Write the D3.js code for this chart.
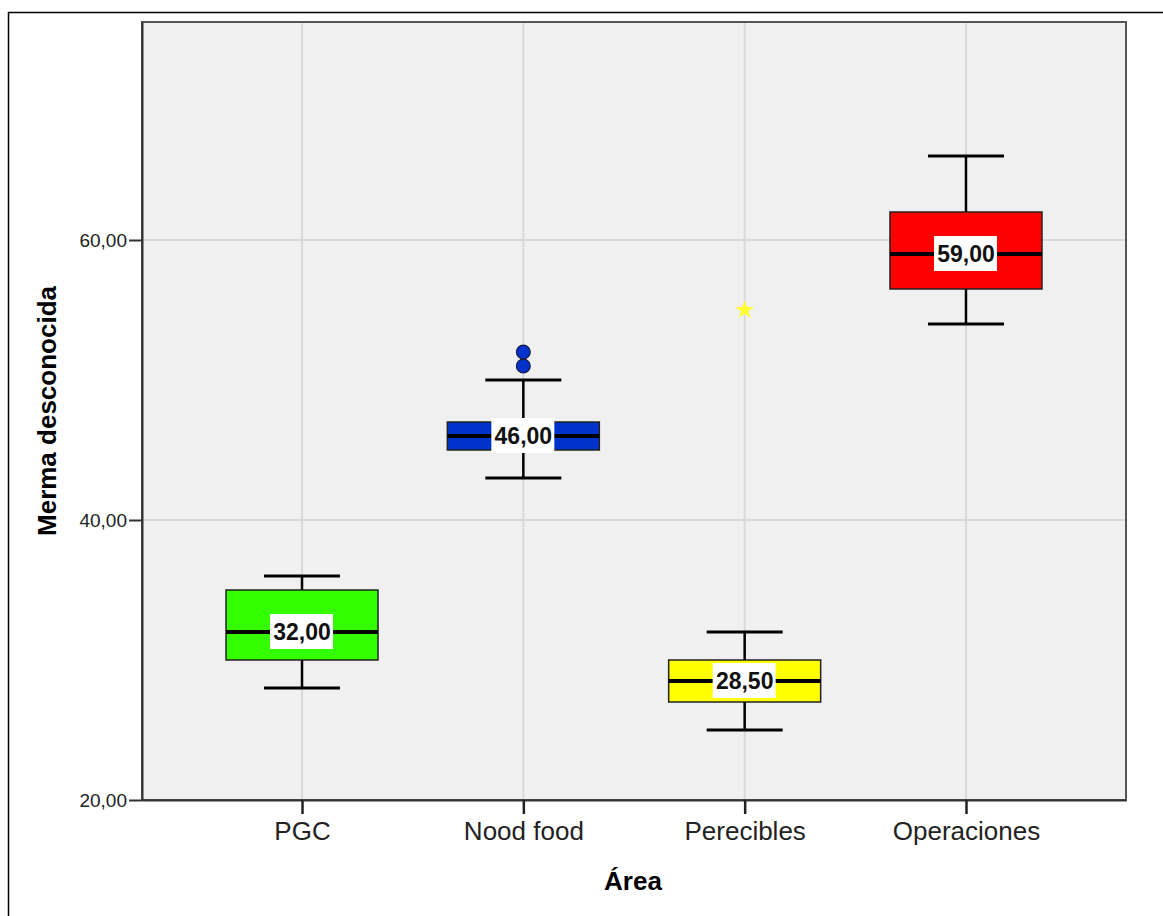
<!DOCTYPE html>
<html>
<head>
<meta charset="utf-8">
<script src="https://cdn.jsdelivr.net/npm/d3@7"></script>
<style>
  body { margin: 0; background: #fff; }
  text { font-family: "Liberation Sans", Arial, sans-serif; }
</style>
</head>
<body>
<div id="chart"></div>
<script>
// data
const areas = ["PGC", "Nood food", "Perecibles", "Operaciones"];
const whiskerLow = [28, 43, 25, 54];
const q1 = [30, 45, 27, 56.5];
const medians = [32, 46, 28.5, 59];
const q3 = [35, 47, 30, 62];
const whiskerHigh = [36, 50, 32, 66];
const boxColors = ["#33ff00", "#0033cc", "#ffff00", "#ff0000"];
// outliers: [area index, value, kind]
const outliers = [[1, 51, "circle"], [1, 52, "circle"], [2, 55, "star"]];
const yTicks = [20, 40, 60];

const W = 1163, H = 916;
const margin = { top: 22, left: 142, right: 37, bottom: 116 };
const width = W - margin.left - margin.right,
      height = H - margin.top - margin.bottom;

const svg = d3.select("#chart").append("svg")
  .attr("width", W).attr("height", H);

// outer frame
svg.append("rect")
  .attr("x", 8.5).attr("y", 12.5)
  .attr("width", W + 20).attr("height", H + 20)
  .attr("fill", "none").attr("stroke", "#000").attr("stroke-width", 1.5);

const g = svg.append("g")
  .attr("transform", "translate(" + margin.left + "," + margin.top + ")");

const x = d3.scalePoint().domain(areas).range([0, width]).padding(0.723);
const y = d3.scaleLinear().domain([20, 20 + height / 14]).range([height, 0]);

// plot background
g.append("rect")
  .attr("width", width).attr("height", height)
  .attr("fill", "#f0f0f0");

// grid
g.selectAll(".hgrid").data(yTicks.slice(1)).enter().append("line")
  .attr("x1", 0).attr("x2", width)
  .attr("y1", d => y(d)).attr("y2", d => y(d))
  .attr("stroke", "#d9d9d9").attr("stroke-width", 2);
g.selectAll(".vgrid").data(areas).enter().append("line")
  .attr("x1", d => x(d)).attr("x2", d => x(d))
  .attr("y1", 0).attr("y2", height)
  .attr("stroke", "#d9d9d9").attr("stroke-width", 2);

// frame of the plot
g.append("rect")
  .attr("width", width).attr("height", height)
  .attr("fill", "none").attr("stroke", "#555").attr("stroke-width", 2);

// axes
const yAxis = g.append("g")
  .call(d3.axisLeft(y).tickValues(yTicks).tickSize(13).tickSizeOuter(0)
    .tickFormat(d => d3.format(".2f")(d).replace(".", ",")));
yAxis.select(".domain").attr("stroke", "#333").attr("stroke-width", 2);
yAxis.selectAll(".tick line").attr("stroke", "#333").attr("stroke-width", 2);
yAxis.selectAll(".tick text").attr("font-size", 19).attr("fill", "#222")
  .attr("x", -15).attr("dy", "0.35em");

const xAxis = g.append("g")
  .attr("transform", "translate(0," + height + ")")
  .call(d3.axisBottom(x).tickSize(14).tickSizeOuter(0));
xAxis.select(".domain").attr("stroke", "#333").attr("stroke-width", 2);
xAxis.selectAll(".tick line").attr("stroke", "#222").attr("stroke-width", 2.5);
xAxis.selectAll(".tick text").attr("font-size", 26).attr("fill", "#222")
  .attr("y", 19).attr("dy", "0.8em");

// axis titles
svg.append("text")
  .attr("transform", "translate(56," + (margin.top + height / 2) + ") rotate(-90)")
  .attr("text-anchor", "middle")
  .attr("font-size", 26).attr("font-weight", "bold")
  .text("Merma desconocida");
svg.append("text")
  .attr("x", 633).attr("y", 890)
  .attr("text-anchor", "middle")
  .attr("font-size", 26).attr("font-weight", "bold")
  .text("Área");

// boxes
const boxW = 152, capW = 76;
const boxes = g.selectAll(".box").data(areas).enter().append("g")
  .attr("transform", d => "translate(" + x(d) + ",0)");

boxes.append("line")
  .attr("y1", (d, i) => y(whiskerHigh[i])).attr("y2", (d, i) => y(q3[i]))
  .attr("stroke", "#000").attr("stroke-width", 2.5);
boxes.append("line")
  .attr("y1", (d, i) => y(q1[i])).attr("y2", (d, i) => y(whiskerLow[i]))
  .attr("stroke", "#000").attr("stroke-width", 2.5);
boxes.append("line")
  .attr("x1", -capW / 2).attr("x2", capW / 2)
  .attr("y1", (d, i) => y(whiskerHigh[i])).attr("y2", (d, i) => y(whiskerHigh[i]))
  .attr("stroke", "#000").attr("stroke-width", 3);
boxes.append("line")
  .attr("x1", -capW / 2).attr("x2", capW / 2)
  .attr("y1", (d, i) => y(whiskerLow[i])).attr("y2", (d, i) => y(whiskerLow[i]))
  .attr("stroke", "#000").attr("stroke-width", 3);
boxes.append("rect")
  .attr("x", -boxW / 2).attr("width", boxW)
  .attr("y", (d, i) => y(q3[i]))
  .attr("height", (d, i) => y(q1[i]) - y(q3[i]))
  .attr("fill", (d, i) => boxColors[i])
  .attr("stroke", "#222").attr("stroke-width", 1.5);
boxes.append("line")
  .attr("x1", -boxW / 2).attr("x2", boxW / 2)
  .attr("y1", (d, i) => y(medians[i])).attr("y2", (d, i) => y(medians[i]))
  .attr("stroke", "#000").attr("stroke-width", 4);

// median labels
boxes.append("rect")
  .attr("x", -32).attr("width", 63)
  .attr("y", (d, i) => y(medians[i]) - 18).attr("height", 35)
  .attr("fill", "#fff");
boxes.append("text")
  .attr("y", (d, i) => y(medians[i]))
  .attr("dy", "0.36em")
  .attr("text-anchor", "middle")
  .attr("font-size", 23).attr("font-weight", "bold").attr("fill", "#111")
  .text((d, i) => d3.format(".2f")(medians[i]).replace(".", ","));

// outliers
g.selectAll(".outlier").data(outliers).enter().append("path")
  .attr("transform", d => "translate(" + x(areas[d[0]]) + "," + y(d[1]) + ")")
  .attr("d", d => d[2] === "star"
    ? d3.symbol().type(d3.symbolStar).size(110)()
    : d3.symbol().type(d3.symbolCircle).size(150)())
  .attr("fill", d => d[2] === "star" ? "#ffff33" : boxColors[d[0]])
  .attr("stroke", d => d[2] === "star" ? "none" : "#1a1a40")
  .attr("stroke-width", 1.2);
</script>
</body>
</html>
